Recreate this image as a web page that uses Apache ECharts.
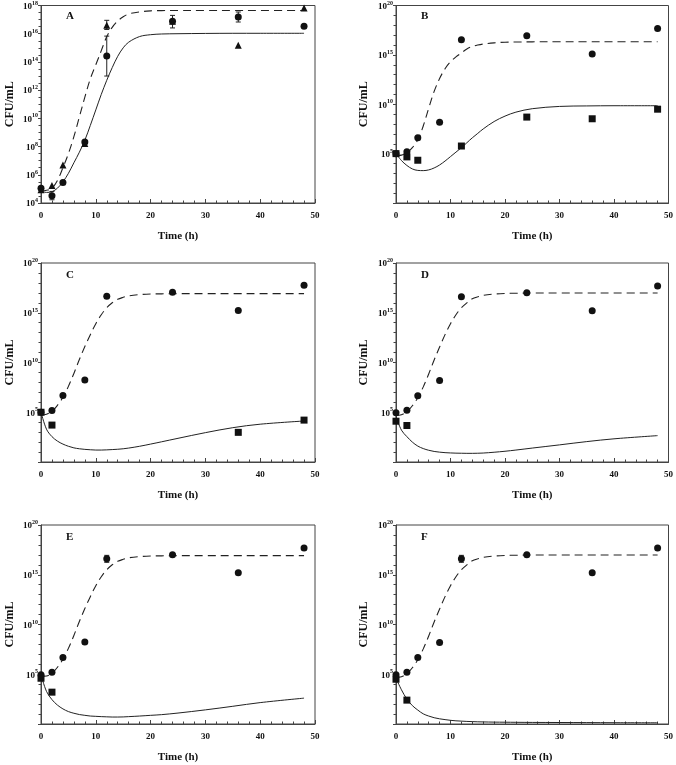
<!DOCTYPE html>
<html><head><meta charset="utf-8">
<script src="https://cdn.jsdelivr.net/npm/echarts@6/dist/echarts.min.js"></script>
<style>html,body{margin:0;padding:0;background:#fff}#c{width:676px;height:765px}</style>
</head><body><div id="c"></div>
<script>
// values are log10(CFU/mL)
const hours = [0, 2, 4, 8, 12, 24, 36, 48];
const curveHours = [0,1,2,3,4,5,6,7,8,9,10,11,12,13,14,15,16,18,20,22,25,30,35,40,48];
const panelLetters = ['A','B','C','D','E','F'];
const xTickLabels = [0,10,20,30,40,50];

// Panel A
const A_circles = [5.05, 4.52, 5.45, 8.33, 14.42, 16.88, 17.18, 16.53];
const A_triangles = [4.94, 5.24, 6.69, 8.22, 16.6, 16.88, 15.19, 17.82];
const A_circleErr = [[2, 4.23, 4.82], [12, 13.0, 15.83], [24, 16.41, 17.3], [36, 16.83, 17.54]];
const A_triangleErr = [[12, 16.3, 16.95]];
const A_dashed = [4.85,4.9,5.05,5.6,6.5,7.5,8.7,10.1,11.5,12.8,13.8,14.8,15.8,16.45,16.9,17.2,17.4,17.55,17.62,17.64,17.65,17.65,17.65,17.65,17.65];
const A_solid = [4.85,4.75,4.8,5.05,5.5,6.1,6.85,7.6,8.45,9.5,10.6,11.7,12.7,13.6,14.4,15.0,15.4,15.8,15.93,15.98,16.0,16.02,16.03,16.03,16.03];

// Panel B
const B_circles = [5.0, 5.2, 6.6, 8.17, 16.53, 16.93, 15.1, 17.67];
const B_squareHours = [0, 2, 4, 12, 24, 36, 48];
const B_squares = [5.0, 4.67, 4.33, 5.77, 8.7, 8.53, 9.5];
const B_dashed = [4.8,4.85,5.1,5.6,6.4,7.8,9.6,11.3,12.6,13.6,14.3,14.8,15.2,15.6,15.85,16.0,16.1,16.22,16.28,16.3,16.32,16.33,16.33,16.33,16.33];
const B_solid = [5.0,4.3,3.8,3.45,3.3,3.28,3.35,3.55,3.85,4.25,4.7,5.15,5.6,6.1,6.6,7.05,7.5,8.25,8.8,9.2,9.55,9.78,9.83,9.85,9.85];

// Panel C
const C_circles = [5.0, 5.18, 6.69, 8.23, 16.66, 17.06, 15.22, 17.76];
const C_squareHours = [0, 2, 36, 48];
const C_squares = [5.0, 3.71, 2.98, 4.21];
const C_dashed = [4.72,4.8,5.1,5.7,6.5,7.6,8.9,10.3,11.6,12.8,13.9,14.8,15.5,16.0,16.35,16.55,16.7,16.82,16.88,16.9,16.92,16.92,16.92,16.92,16.92];
const C_solid = [5.0,3.3,2.55,2.1,1.8,1.58,1.42,1.33,1.27,1.23,1.2,1.2,1.22,1.25,1.28,1.33,1.4,1.58,1.8,2.03,2.38,2.95,3.45,3.8,4.12];

// Panel D
const D_circles = [4.95, 5.2, 6.67, 8.2, 16.6, 17.0, 15.2, 17.7];
const D_squareHours = [0, 2];
const D_squares = [4.1, 3.67];
const D_dashed = [4.66,4.75,5.05,5.65,6.45,7.55,8.85,10.25,11.55,12.8,13.9,14.8,15.5,16.0,16.4,16.6,16.75,16.88,16.94,16.96,16.98,16.98,16.98,16.98,16.98];
const D_solid = [4.56,3.2,2.55,2.0,1.6,1.35,1.18,1.06,0.99,0.94,0.91,0.89,0.88,0.87,0.87,0.88,0.9,0.98,1.08,1.2,1.4,1.72,2.05,2.33,2.65];

// Panel E
const E_circles = [4.95, 5.2, 6.69, 8.23, 16.6, 17.0, 15.2, 17.7];
const E_circleErr = [[12, 16.25, 16.95]];
const E_squareHours = [0, 2];
const E_squares = [4.6, 3.2];
const E_dashed = [4.78,4.82,5.1,5.7,6.5,7.6,8.9,10.3,11.6,12.8,13.9,14.8,15.5,16.0,16.35,16.55,16.7,16.82,16.88,16.9,16.92,16.92,16.92,16.92,16.92];
const E_solid = [4.95,3.28,2.45,1.9,1.52,1.25,1.08,0.95,0.87,0.8,0.77,0.74,0.72,0.7,0.7,0.71,0.74,0.8,0.87,0.94,1.1,1.42,1.78,2.15,2.6];

// Panel F
const F_circles = [4.95, 5.2, 6.69, 8.2, 16.6, 17.0, 15.2, 17.7];
const F_circleErr = [[12, 16.25, 16.95]];
const F_squareHours = [0, 2];
const F_squares = [4.5, 2.4];
const F_dashed = [4.66,4.75,5.05,5.65,6.45,7.55,8.85,10.25,11.55,12.8,13.9,14.8,15.5,16.0,16.4,16.6,16.75,16.88,16.94,16.96,16.98,16.98,16.98,16.98,16.98];
const F_solid = [4.6,3.44,2.5,1.85,1.4,1.02,0.8,0.63,0.52,0.44,0.37,0.32,0.29,0.26,0.24,0.22,0.21,0.19,0.18,0.17,0.16,0.15,0.14,0.13,0.12];

const pair = (xs, ys) => xs.map((x, i) => [x, ys[i]]);

const panels = [
  {circles: pair(hours, A_circles), triangles: pair(hours, A_triangles), squares: null,
   err: A_circleErr.concat(A_triangleErr), dashed: pair(curveHours, A_dashed), solid: pair(curveHours, A_solid),
   ymin: 4, ymax: 18, yint: 2, ysplit: 4, showMin: true},
  {circles: pair(hours, B_circles), squares: pair(B_squareHours, B_squares), err: [],
   dashed: pair(curveHours, B_dashed), solid: pair(curveHours, B_solid), ymin: 0, ymax: 20, yint: 5, ysplit: 5, showMin: false},
  {circles: pair(hours, C_circles), squares: pair(C_squareHours, C_squares), err: [],
   dashed: pair(curveHours, C_dashed), solid: pair(curveHours, C_solid), ymin: 0, ymax: 20, yint: 5, ysplit: 5, showMin: false},
  {circles: pair(hours, D_circles), squares: pair(D_squareHours, D_squares), err: [],
   dashed: pair(curveHours, D_dashed), solid: pair(curveHours, D_solid), ymin: 0, ymax: 20, yint: 5, ysplit: 5, showMin: false},
  {circles: pair(hours, E_circles), squares: pair(E_squareHours, E_squares), err: E_circleErr,
   dashed: pair(curveHours, E_dashed), solid: pair(curveHours, E_solid), ymin: 0, ymax: 20, yint: 5, ysplit: 5, showMin: false},
  {circles: pair(hours, F_circles), squares: pair(F_squareHours, F_squares), err: F_circleErr,
   dashed: pair(curveHours, F_dashed), solid: pair(curveHours, F_solid), ymin: 0, ymax: 20, yint: 5, ysplit: 5, showMin: false}
];

const gridPos = [
  {left: 41, top: 4}, {left: 396, top: 4},
  {left: 41, top: 263}, {left: 396, top: 263},
  {left: 41, top: 525}, {left: 396, top: 525}
];
const FONT = '"Liberation Serif", "Times New Roman", serif';
const INK = '#111';
const AXIS = '#444';

const grids = [], xAxes = [], yAxes = [], series = [], graphics = [];
panels.forEach((p, i) => {
  const g = gridPos[i];
  grids.push({left: g.left, top: g.top, width: i % 2 ? 273 : 274, height: 199,
    show: true, borderColor: AXIS, borderWidth: 1, backgroundColor: 'transparent'});
  xAxes.push({type: 'value', gridIndex: i, min: 0, max: 50, interval: 10,
    name: 'Time (h)', nameLocation: 'middle', nameGap: 28,
    nameTextStyle: {fontFamily: FONT, fontWeight: 'bold', fontSize: 11, color: INK},
    axisLine: {show: true, lineStyle: {color: AXIS, width: 1}},
    axisTick: {show: true, inside: true, length: 4, lineStyle: {color: AXIS}},
    minorTick: {show: true, splitNumber: 5, length: 2.5, lineStyle: {color: AXIS}},
    splitLine: {show: false},
    axisLabel: {margin: 8, fontFamily: FONT, fontWeight: 'bold', fontSize: 9, color: INK,
      formatter: v => xTickLabels.includes(v) ? String(v) : ''}});
  yAxes.push({type: 'value', gridIndex: i, min: p.ymin, max: p.ymax, interval: p.yint,
    name: 'CFU/mL', nameLocation: 'middle', nameGap: i % 2 ? 26 : 25, nameRotate: 90,
    nameTextStyle: {fontFamily: FONT, fontWeight: 'bold', fontSize: 12, color: INK},
    axisLine: {show: true, lineStyle: {color: AXIS, width: 1}},
    axisTick: {show: true, inside: false, length: 3, lineStyle: {color: AXIS}},
    minorTick: {show: true, splitNumber: p.ysplit, length: 2.5, lineStyle: {color: AXIS}},
    splitLine: {show: false},
    axisLabel: {margin: 3, showMinLabel: p.showMin, showMaxLabel: true,
      formatter: v => '{b|10}{s|' + v + '}',
      rich: {
        b: {fontFamily: FONT, fontWeight: 'bold', fontSize: 9, color: INK, lineHeight: 11, verticalAlign: 'bottom'},
        s: {fontFamily: FONT, fontWeight: 'bold', fontSize: 6, color: INK, lineHeight: 6, verticalAlign: 'top'}
      }}});
  series.push({type: 'line', xAxisIndex: i, yAxisIndex: i, data: p.solid, showSymbol: false,
    smooth: 0.35, silent: true, lineStyle: {color: '#222', width: 1, type: 'solid'}, z: 2});
  series.push({type: 'line', xAxisIndex: i, yAxisIndex: i, data: p.dashed, showSymbol: false,
    smooth: 0.35, silent: true, lineStyle: {color: '#222', width: 1.1, type: [8, 5]}, z: 2});
  if (p.err.length) {
    series.push({type: 'custom', xAxisIndex: i, yAxisIndex: i, data: p.err, silent: true, z: 3,
      renderItem: (params, api) => {
        const x = api.value(0);
        const lo = api.coord([x, api.value(1)]);
        const hi = api.coord([x, api.value(2)]);
        const w = 2.5;
        const st = {stroke: '#222', lineWidth: 1};
        return {type: 'group', children: [
          {type: 'line', shape: {x1: lo[0], y1: lo[1], x2: hi[0], y2: hi[1]}, style: st},
          {type: 'line', shape: {x1: lo[0] - w, y1: lo[1], x2: lo[0] + w, y2: lo[1]}, style: st},
          {type: 'line', shape: {x1: hi[0] - w, y1: hi[1], x2: hi[0] + w, y2: hi[1]}, style: st}
        ]};
      },
      encode: {x: 0, y: [1, 2]}});
  }
  if (p.triangles) {
    series.push({type: 'scatter', xAxisIndex: i, yAxisIndex: i, data: p.triangles, symbol: 'triangle',
      symbolSize: 7, itemStyle: {color: INK, opacity: 1}, z: 4, silent: true});
  }
  if (p.squares) {
    series.push({type: 'scatter', xAxisIndex: i, yAxisIndex: i, data: p.squares, symbol: 'rect',
      symbolSize: 7, itemStyle: {color: INK, opacity: 1}, z: 4, silent: true});
  }
  series.push({type: 'scatter', xAxisIndex: i, yAxisIndex: i, data: p.circles, symbol: 'circle',
    symbolSize: 7, itemStyle: {color: INK, opacity: 1}, z: 5, silent: true});
  graphics.push({type: 'text', left: g.left + 25, top: g.top + 7,
    style: {text: panelLetters[i], font: 'bold 11px ' + FONT, fill: INK}});
});

const chart = echarts.init(document.getElementById('c'), null, {renderer: 'canvas'});
chart.setOption({
  animation: false,
  backgroundColor: '#fff',
  grid: grids, xAxis: xAxes, yAxis: yAxes, series: series, graphic: graphics
});
</script>
</body></html>
